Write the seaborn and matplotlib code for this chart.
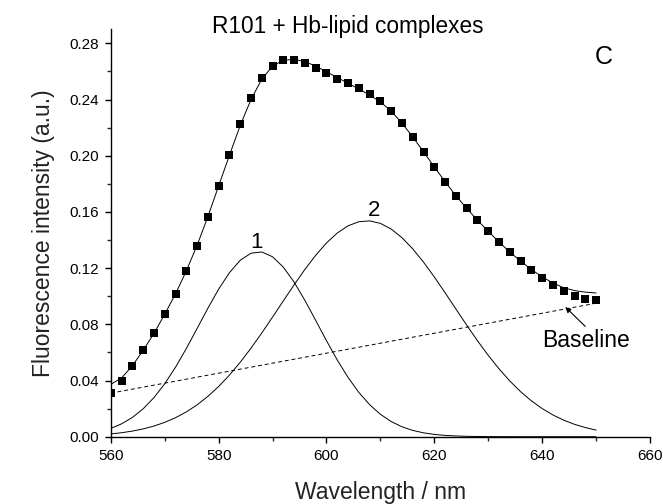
import matplotlib
matplotlib.use("Agg")
import matplotlib.pyplot as plt
import seaborn as sns
import pandas as pd

# ---- data ----
wavelength = [560, 562, 564, 566, 568, 570, 572, 574, 576, 578,
              580, 582, 584, 586, 588, 590, 592, 594, 596, 598,
              600, 602, 604, 606, 608, 610, 612, 614, 616, 618,
              620, 622, 624, 626, 628, 630, 632, 634, 636, 638,
              640, 642, 644, 646, 648, 650]

measured = [0.0309, 0.0396, 0.0503, 0.0617, 0.0736, 0.0873, 0.1016, 0.1180, 0.1360, 0.1565,
            0.1785, 0.2005, 0.2223, 0.2413, 0.2551, 0.2638, 0.2681, 0.2681, 0.2658, 0.2626,
            0.2586, 0.2548, 0.2515, 0.2480, 0.2439, 0.2390, 0.2320, 0.2230, 0.2135, 0.2028,
            0.1921, 0.1815, 0.1715, 0.1626, 0.1542, 0.1462, 0.1388, 0.1313, 0.1250, 0.1186,
            0.1130, 0.1080, 0.1039, 0.0999, 0.0982, 0.0970]

fit_total = [0.0373, 0.0418, 0.0505, 0.0615, 0.0735, 0.0872, 0.1016, 0.1180, 0.1362, 0.1566,
             0.1785, 0.2003, 0.2215, 0.2400, 0.2545, 0.2638, 0.2680, 0.2686, 0.2670, 0.2638,
             0.2598, 0.2557, 0.2516, 0.2475, 0.2432, 0.2383, 0.2318, 0.2232, 0.2134, 0.2028,
             0.1920, 0.1815, 0.1716, 0.1625, 0.1541, 0.1462, 0.1386, 0.1314, 0.1250, 0.1190,
             0.1138, 0.1094, 0.1060, 0.1040, 0.1029, 0.1023]

peak1 = [0.00592, 0.00916, 0.01371, 0.01985, 0.02782, 0.03769, 0.04943, 0.06271, 0.07698, 0.09141,
         0.10503, 0.11675, 0.12556, 0.13063, 0.13150, 0.12808, 0.12068, 0.11001, 0.09702, 0.08279,
         0.06834, 0.05459, 0.04219, 0.03153, 0.02280, 0.01596, 0.01080, 0.00707, 0.00448, 0.00275,
         0.00163, 0.00094, 0.00052, 0.00028, 0.00014, 0.00007, 0.00003, 0.00001, 0.0, 0.0,
         0.0, 0.0, 0.0, 0.0, 0.0, 0.0]

peak2 = [0.00198, 0.00283, 0.00399, 0.00554, 0.00758, 0.01020, 0.01352, 0.01764, 0.02266, 0.02868,
         0.03574, 0.04384, 0.05297, 0.06301, 0.07381, 0.08514, 0.09670, 0.10814, 0.11909, 0.12914,
         0.13790, 0.14499, 0.15011, 0.15303, 0.15363, 0.15186, 0.14781, 0.14167, 0.13371, 0.12426,
         0.11371, 0.10246, 0.09091, 0.07943, 0.06833, 0.05789, 0.04829, 0.03966, 0.03208, 0.02555,
         0.02003, 0.01547, 0.01176, 0.00881, 0.00650, 0.00472]

baseline_x = [560, 650]
baseline_y = [0.031, 0.095]

x_ticks = [560, 580, 600, 620, 640, 660]
y_ticks = [0.00, 0.04, 0.08, 0.12, 0.16, 0.20, 0.24, 0.28]

df = pd.DataFrame({"wl": wavelength, "meas": measured, "fit": fit_total,
                   "p1": peak1, "p2": peak2})
dfb = pd.DataFrame({"wl": baseline_x, "base": baseline_y})

# ---- style ----
sns.set_theme(style="ticks")
plt.rcParams["font.family"] = ["Liberation Sans", "DejaVu Sans"]
plt.rcParams["axes.linewidth"] = 1.0

fig = plt.figure(figsize=(6.63, 5.04), dpi=100)
ax = fig.add_axes([110.8 / 663, 1 - 436.7 / 504, (650 - 110.8) / 663, (436.7 - 29.3) / 504])

lw = 0.7
sns.lineplot(data=df, x="wl", y="p1", ax=ax, color="black", linewidth=lw)
sns.lineplot(data=df, x="wl", y="p2", ax=ax, color="black", linewidth=lw)
sns.lineplot(data=dfb, x="wl", y="base", ax=ax, color="black", linewidth=lw,
             linestyle=(0, (4, 3)))
sns.lineplot(data=df, x="wl", y="fit", ax=ax, color="black", linewidth=lw)
sns.scatterplot(data=df, x="wl", y="meas", ax=ax, marker="s", s=30, color="black",
                edgecolor="black", linewidth=0, zorder=5)

ax.set_xlim(560, 660)
ax.set_ylim(0, 0.29)
ax.set_xticks(x_ticks)
ax.set_yticks(y_ticks)
ax.set_xticks([570, 590, 610, 630, 650], minor=True)
ax.set_yticks([0.02, 0.06, 0.10, 0.14, 0.18, 0.22, 0.26], minor=True)
ax.set_yticklabels([f"{v:.2f}" for v in y_ticks])
ax.tick_params(which="major", direction="out", length=4.5, width=1.0,
               labelsize=11, pad=4, colors="black")
ax.tick_params(which="minor", direction="out", length=3, width=1.0)
for s in ["top", "right"]:
    ax.spines[s].set_visible(False)
for s in ["left", "bottom"]:
    ax.spines[s].set_color("black")

ax.set_xlabel("Wavelength / nm", fontsize=16.5, color="#222222", labelpad=13)
ax.set_ylabel("Fluorescence intensity (a.u.)", fontsize=16.5, color="#222222", labelpad=10)

fig.text(348 / 663, 1 - 27 / 504, "R101 + Hb-lipid complexes", fontsize=16.3,
         ha="center", va="center", color="black")
ax.text(651.5, 0.270, "C", fontsize=18, ha="center", va="center", color="black")
ax.text(587.1, 0.1382, "1", fontsize=16, ha="center", va="center", color="black")
ax.text(608.8, 0.1613, "2", fontsize=16, ha="center", va="center", color="black")
ax.text(648.2, 0.0688, "Baseline", fontsize=16.5, ha="center", va="center", color="black")
ax.annotate("", xy=(644.3, 0.0923), xytext=(648.0, 0.0785),
            arrowprops=dict(arrowstyle="-|>", color="black", lw=0.8,
                            shrinkA=0, shrinkB=0, mutation_scale=8))

fig.savefig("out.png", dpi=100)
